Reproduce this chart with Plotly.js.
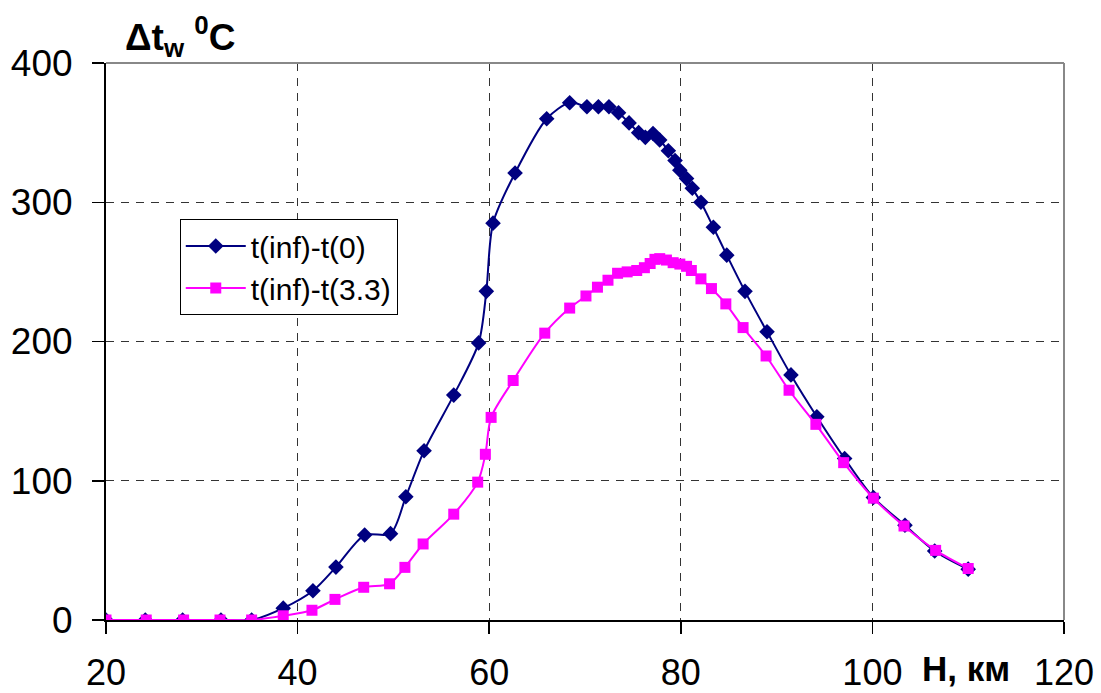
<!DOCTYPE html>
<html>
<head>
<meta charset="utf-8">
<script src="https://cdn.plot.ly/plotly-3.0.1.min.js"></script>
<style>html,body{margin:0;padding:0;background:#fff;}#chart{width:1101px;height:693px;}</style>
</head>
<body>
<div id="chart"></div>
<script>
// Series 1: t(inf)-t(0)
const hA = [20,24.1,28.0,32.0,35.2,38.5,41.6,44.0,47.0,49.7,51.3,53.2,56.3,58.9,59.7,60.4,62.7,66.0,68.4,70.2,71.4,72.5,73.5,74.6,75.6,76.3,77.1,77.8,78.7,79.4,79.9,80.6,81.2,82.1,83.4,84.8,86.7,89.0,91.5,94.2,97.1,100.1,103.4,106.5,110.0];
const dtA = [0,0,0,0,0,8.5,21,38,61,62,88.5,121.5,161.5,199,236,285,321,360,371.5,368.6,368.6,368.6,364.3,357,350,346.6,349.4,344.7,337,330,323,317,310,300,282,262,236,207,176,146,116,88,68,49.5,36.5];
// Series 2: t(inf)-t(3.3)
const hB = [20,24.2,28.1,31.9,35.2,38.5,41.5,43.9,46.9,49.6,51.2,53.1,56.3,58.8,59.6,60.2,62.5,65.8,68.4,70.1,71.3,72.4,73.4,74.4,75.4,76.2,76.8,77.3,77.8,78.5,79.2,79.9,80.6,81.1,82.1,83.2,84.7,86.5,88.9,91.3,94.1,97.0,100.1,103.3,106.6,110.0];
const dtB = [0,0,0,0,0,3,7,14.8,23.5,26,37.8,54.6,76,99,119,145.5,172,206,224,232.7,239,244,249,250,251,253,256,259,259.5,258.5,256.6,255.6,254,251,245,238,227,210,189.6,165,140.5,113,87.5,67.5,50,37];
const seriesNames = ["t(inf)-t(0)", "t(inf)-t(3.3)"];
const xTicks = [20,40,60,80,100,120];
const yTicks = [0,100,200,300,400];

const FONT = "Liberation Sans, Arial, sans-serif";

const traces = [
  {x: hA, y: dtA, name: seriesNames[0], type: "scatter", mode: "lines+markers",
   legendgroup: "a",
   line: {color: "#000080", width: 2, shape: "spline", smoothing: 0.8},
   marker: {symbol: "diamond", size: 12, color: "#000080"}},
  {x: hB, y: dtB, name: seriesNames[1], type: "scatter", mode: "lines+markers",
   legendgroup: "b",
   line: {color: "#FF00FF", width: 2, shape: "spline", smoothing: 0.8},
   marker: {symbol: "square", size: 11, color: "#FF00FF"}}
];

const axisCommon = {showline: true, linecolor: "#000", linewidth: 2, zeroline: false,
  ticks: "outside", ticklen: 12, tickwidth: 1.5, tickcolor: "#000",
  tickfont: {family: FONT, size: 36, color: "#000"},
  showgrid: true, gridcolor: "#333", gridwidth: 1, griddash: "8px,7px"};

const layout = {
  width: 1101, height: 693,
  margin: {l: 106, r: 37, t: 63, b: 73},
  paper_bgcolor: "#fff", plot_bgcolor: "#fff",
  font: {family: FONT, color: "#000"},
  showlegend: true,
  legend: {x: 0.077, y: 0.72, xanchor: "left", yanchor: "top",
    bgcolor: "#fff", bordercolor: "#000", borderwidth: 1, itemwidth: 60,
    font: {family: FONT, size: 30, color: "#000"}, tracegroupgap: 0},
  xaxis: Object.assign({}, axisCommon, {range: [20, 120], tickvals: xTicks, ticktext: xTicks.map(String), ticklabelstandoff: 8}),
  yaxis: Object.assign({}, axisCommon, {range: [0, 400], tickvals: yTicks, ticktext: yTicks.map(String), ticklabelstandoff: 12, tickfont: {family: FONT, size: 37, color: "#000"}}),
  xaxis2: {overlaying: "x", range: [20, 120], tickvals: xTicks, showticklabels: false, ticks: "inside", ticklen: 7, tickwidth: 1.5, tickcolor: "#000", showgrid: false, zeroline: false, showline: false, anchor: "y"},
  yaxis2: {overlaying: "y", range: [0, 400], tickvals: yTicks, showticklabels: false, ticks: "inside", ticklen: 7, tickwidth: 1.5, tickcolor: "#000", showgrid: false, zeroline: false, showline: false, anchor: "x"},
  shapes: [
    {type: "line", xref: "paper", yref: "paper", x0: 0, x1: 1, y0: 1, y1: 1, line: {color: "#888", width: 2}},
    {type: "line", xref: "paper", yref: "paper", x0: 1, x1: 1, y0: 0, y1: 1, line: {color: "#888", width: 2}}
  ],
  annotations: [
    {text: "<b>Δt<sub>w</sub> <sup>0</sup>C</b>", xref: "paper", yref: "paper",
     x: 0.018, y: 1 + (63 - 37) / 557, xanchor: "left", yanchor: "middle", showarrow: false,
     font: {family: FONT, size: 37, color: "#000"}},
    {text: "<b>H, км</b>", xref: "x", yref: "paper",
     x: 109.8, y: -(668 - 620) / 557, xanchor: "center", yanchor: "middle", showarrow: false,
     font: {family: FONT, size: 35, color: "#000"}}
  ]
};

Plotly.newPlot("chart", traces, layout, {displayModeBar: false, staticPlot: true});
</script>
</body>
</html>
